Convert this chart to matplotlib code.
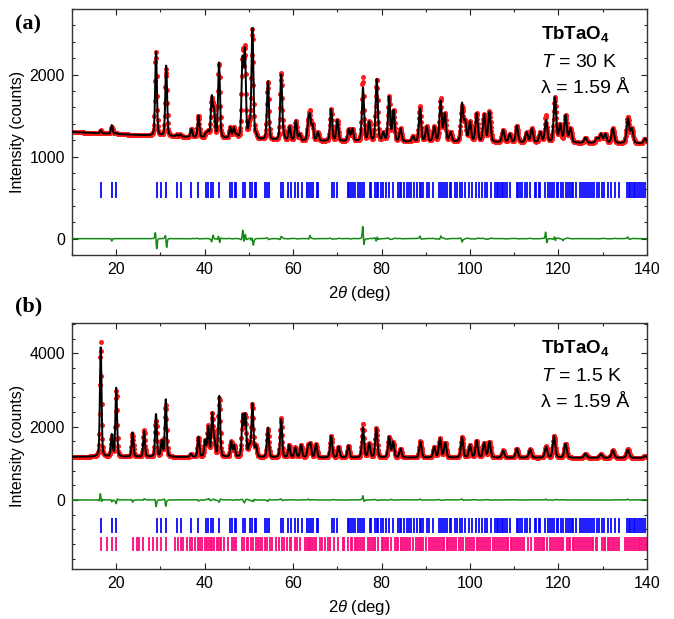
import numpy as np
import matplotlib
matplotlib.use("Agg")
import matplotlib.pyplot as plt
from matplotlib.ticker import MultipleLocator

plt.rcParams['font.family'] = ['Liberation Sans', 'DejaVu Sans']
plt.rcParams['mathtext.fontset'] = 'custom'
plt.rcParams['mathtext.rm'] = 'Liberation Sans'
plt.rcParams['mathtext.it'] = 'Liberation Sans:italic'
plt.rcParams['mathtext.bf'] = 'Liberation Sans:bold'

# ---------------- data: panel (a) T = 30 K ----------------
bg_a_x = [10, 30, 60, 100, 140]
bg_a_y = [1300, 1250, 1190, 1175, 1160]
peaks_a_pos = [16.5, 19.0, 20.0, 29.0, 29.6, 31.3, 33.7, 34.5, 37.0, 38.6, 40.3, 40.8,
               41.6, 42.1, 43.25, 45.8, 46.6, 47.2, 48.55, 49.1, 50.1, 50.8, 51.6, 54.3,
               57.3, 57.9, 59.2, 60.6, 61.5, 63.4, 63.8, 64.4, 65.6, 68.6, 70.0, 72.6,
               73.4, 75.8, 77.2, 78.9, 80.4, 81.7, 82.7, 84.3, 87.1, 88.7, 90.2, 91.9,
               93.35, 94.3, 95.6, 98.2, 98.9, 100.0, 101.5, 103.2, 104.4, 107.5, 109.0,
               110.6, 112.8, 114.0, 115.9, 117.2, 119.2, 120.4, 121.6, 122.7, 126.1,
               128.7, 129.6, 130.6, 132.3, 135.7, 136.6, 139.6]
peaks_a_hgt = [1320, 1385, 1290, 2280, 1300, 2115, 1270, 1270, 1340, 1500, 1300, 1320,
               1750, 1600, 2150, 1360, 1360, 1280, 2230, 2330, 1450, 2570, 1300, 1920,
               2005, 1300, 1370, 1440, 1280, 1450, 1530, 1400, 1300, 1580, 1450, 1340,
               1345, 1840, 1430, 1950, 1300, 1735, 1570, 1345, 1250, 1590, 1370, 1370,
               1685, 1530, 1300, 1660, 1450, 1430, 1530, 1520, 1550, 1325, 1280,
               1375, 1300, 1345, 1300, 1450, 1725, 1400, 1510, 1350, 1230,
               1230, 1280, 1280, 1345, 1470, 1350, 1220]
diff_a_pos = [19.0, 28.85, 29.15, 31.15, 31.4, 41.6, 41.9, 43.1, 43.4, 48.6, 48.9, 49.2,
              50.5, 51.0, 57.3, 63.8, 75.75, 76.0, 78.8, 79.0, 88.7, 93.4, 98.2, 117.1,
              117.35, 119.1, 119.3, 121.0, 135.7]
diff_a_amp = [-30, 60, -110, 30, -100, -40, 30, 40, -60, 90, -60, 60,
              -40, -60, 25, 40, 150, -70, -40, 30, 30, 30, -40, 80,
              -50, 30, -30, -20, 20]

# ---------------- data: panel (b) T = 1.5 K ----------------
bg_b_x = [10, 30, 60, 100, 140]
bg_b_y = [1175, 1170, 1150, 1150, 1145]
peaks_b_pos = [16.5, 19.0, 20.0, 23.7, 26.3, 29.0, 30.3, 31.2, 36.9, 38.6, 40.1, 40.8,
               41.7, 42.2, 43.3, 46.0, 46.7, 48.6, 49.2, 50.1, 50.8, 51.6, 54.3, 57.3,
               59.1, 60.5, 61.8, 63.4, 63.9, 65.2, 68.6, 70.3, 72.5, 75.8, 77.2, 78.8,
               81.7, 82.6, 84.3, 88.8, 91.9, 93.2, 94.4, 98.2, 100.0, 101.5, 103.2,
               104.4, 107.5, 110.6, 113.6, 117.2, 119.0, 121.6, 126.1, 129.6, 132.3,
               135.7, 139.6]
peaks_b_hgt = [4180, 1800, 3060, 1845, 1880, 2345, 1640, 2745, 1260, 1730, 1640, 2020,
               2380, 1700, 2845, 1600, 1500, 2345, 2365, 1550, 2640, 1500, 1975, 2200,
               1500, 1430, 1500, 1500, 1550, 1530, 1745, 1455, 1480, 1975, 1545, 1955,
               1730, 1590, 1400, 1590, 1450, 1680, 1565, 1710, 1500, 1620, 1565,
               1590, 1350, 1400, 1380, 1450, 1745, 1530, 1260, 1250, 1350,
               1370, 1200]
diff_b_pos = [16.4, 16.7, 19.0, 20.0, 23.7, 26.3, 29.0, 31.2, 38.6, 41.0, 43.3, 49.0,
              51.0, 54.3, 57.3, 63.5, 75.8, 76.0, 88.8, 98.2, 117.2, 135.7]
diff_b_amp = [200, -90, -50, -100, -60, 30, -180, -170, -30, 50, -60, -50,
              -70, -40, 25, 30, 120, -40, 20, 25, 20, 20]

# ---------------- Bragg reflection positions ----------------
nuc_ticks = [16.6, 19.05, 19.96, 29.2, 30.2, 31.2, 33.7, 34.6, 36.9, 38.5, 40.3, 40.8,
             41.4, 41.9, 43.3, 45.7, 46.2, 46.8, 47.2, 48.7, 49.1, 50.2, 50.8, 51.4,
             51.7, 53.6, 54.2, 54.5, 57.3, 57.7, 58.8, 59.5, 60.5, 61.1, 61.9, 63.2,
             63.5, 64.0, 64.5, 65.3, 65.6, 68.7, 69.3, 70.0, 72.3, 72.7, 73.0, 73.6,
             73.9, 74.7, 75.1, 75.6, 76.1, 77.3, 77.7, 78.5, 78.9, 79.2, 79.8, 80.4,
             81.1, 81.6, 82.6, 83.8, 84.1, 84.5, 85.1, 85.7, 86.2, 86.6, 87.4, 88.1,
             88.7, 89.0, 89.4, 90.2, 90.7, 91.7, 93.0, 93.4, 93.95, 94.3, 94.9, 95.5,
             95.8, 96.5, 97.0, 97.7, 98.2, 98.9, 99.8, 100.4, 101.3, 102.0, 102.6,
             103.4, 103.8, 104.7, 105.6, 106.0, 106.4, 106.8, 107.2, 107.5, 107.9,
             108.3, 109.0, 110.6, 110.9, 111.3, 111.7, 112.4, 112.8, 113.6, 114.6,
             114.9, 115.5, 115.8, 117.0, 117.7, 118.1, 118.5, 119.1, 119.6, 120.0,
             120.6, 121.1, 121.7, 122.1, 122.6, 123.0, 123.4, 123.9, 124.9, 125.3,
             125.7, 126.2, 126.6, 127.2, 127.5, 128.1, 128.7, 129.2, 129.8, 130.2,
             131.3, 131.9, 132.7, 133.6, 135.5, 135.9, 136.2, 136.6, 137.0, 137.4,
             137.7, 138.1, 138.6, 139.1, 139.6]
mag_ticks = [16.6, 18.0, 19.05, 19.96, 23.7, 24.6, 25.1, 26.1, 27.4, 28.3, 29.3, 30.2,
             31.2, 33.4, 34.0, 34.6, 35.1, 35.9, 36.6, 37.2, 37.8, 38.5, 38.9, 39.4,
             40.0, 40.6, 40.9, 41.4, 41.7, 42.2, 42.7, 43.1, 43.4, 43.8, 44.4, 45.3,
             46.1, 46.7, 47.2, 48.5, 49.0, 49.5, 49.9, 50.5, 51.0, 51.5, 52.0, 52.5,
             53.0, 53.6, 54.2, 54.8, 55.3, 56.1, 56.9, 57.4, 57.9, 58.6, 59.2, 59.6,
             60.5, 60.9, 61.6, 62.6, 63.1, 63.5, 63.9, 64.3, 64.8, 65.2, 66.1, 66.5,
             67.1, 67.9, 68.3, 69.3, 70.2, 71.2, 71.6, 72.5, 73.0, 73.4, 73.9, 74.3,
             74.7, 75.2, 75.6, 76.1, 77.0, 77.4, 77.8, 78.2, 78.6, 79.1, 80.0, 80.4,
             80.8, 81.2, 81.5, 82.2, 83.0, 83.4, 83.8, 84.3, 84.7, 85.1, 85.6, 86.0,
             86.4, 87.2, 87.7, 88.2, 88.6, 89.0, 89.4, 90.1, 90.8, 91.2, 91.7, 92.1,
             92.5, 92.9, 93.4, 93.8, 94.2, 94.7, 95.1, 95.5, 96.0, 96.4, 96.8, 97.6,
             98.0, 98.5, 99.2, 99.6, 100.0, 100.5, 100.9, 101.5, 101.9, 102.3, 102.8,
             103.2, 103.6, 104.1, 104.5, 105.3, 105.7, 106.1, 106.6, 107.0, 107.4,
             107.9, 108.3, 108.7, 109.2, 109.6, 110.0, 110.5, 110.9, 111.3, 111.8,
             112.2, 113.2, 113.7, 114.7, 115.1, 115.5, 116.0, 116.4, 116.8, 117.3,
             118.1, 118.5, 119.0, 119.4, 119.8, 120.3, 120.7, 121.1, 121.9, 122.3,
             122.7, 123.2, 123.6, 124.0, 124.5, 124.9, 125.3, 125.8, 126.2, 126.6,
             127.1, 127.5, 127.9, 128.4, 128.8, 129.8, 130.2, 130.6, 131.1, 131.5,
             131.9, 132.4, 132.8, 133.2, 133.6, 135.1, 135.5, 135.9, 136.4, 136.8,
             137.2, 137.7, 138.1, 138.5, 139.0, 139.4, 139.8]


def fwhm(x):
    return 0.42 + 0.0022 * (np.asarray(x) - 10.0)


def pv(x, c, w, eta=0.3):
    g = np.exp(-4 * np.log(2) * ((x - c) / w) ** 2)
    l = 1.0 / (1 + 4 * ((x - c) / w) ** 2)
    return eta * l + (1 - eta) * g


def calc_profile(x, bgx, bgy, pos, hgt):
    pos = np.asarray(pos, float)
    hgt = np.asarray(hgt, float)
    bg_at = np.interp(pos, bgx, bgy)
    target = np.maximum(hgt - bg_at, 1.0)
    A = np.array([[pv(p, c, fwhm(c)) for c in pos] for p in pos])
    amp = target.copy()
    for _ in range(300):
        amp = amp * target / (A @ amp)
    prof = np.interp(x, bgx, bgy).astype(float)
    for c, a in zip(pos, amp):
        prof += a * pv(x, c, fwhm(c))
    return prof, pos, amp


def diff_profile(x, dpos, damp, ppos, pamp):
    d = np.zeros_like(x)
    for c, a in zip(dpos, damp):
        w = 0.25
        d += a * np.exp(-4 * np.log(2) * ((x - c) / w) ** 2)
    # small misfit wiggle at every reflection
    for i, (c, a) in enumerate(zip(ppos, pamp)):
        w = fwhm(c)
        s = 1 if i % 2 == 0 else -1
        d += s * 0.05 * a * ((x - c) / w) * np.exp(-2.0 * ((x - c) / w) ** 2)
    return d


x = np.arange(10.0, 140.001, 0.04)
xo = np.arange(10.0, 140.001, 0.08)

fig = plt.figure(figsize=(6.74, 6.19), dpi=100)
ax_a = fig.add_axes([0.1068, 0.588, 0.853, 0.3975])
ax_b = fig.add_axes([0.1068, 0.081, 0.853, 0.397])

panels = [
    (ax_a, bg_a_x, bg_a_y, peaks_a_pos, peaks_a_hgt, diff_a_pos, diff_a_amp,
     (-200, 2800), 1000, 200, r'$T$ = 30 K', '(a)'),
    (ax_b, bg_b_x, bg_b_y, peaks_b_pos, peaks_b_hgt, diff_b_pos, diff_b_amp,
     (-1880, 4820), 2000, 400, r'$T$ = 1.5 K', '(b)'),
]

for (ax, bgx, bgy, pp, ph, dp, da, ylim, maj, mnr, ttxt, lab) in panels:
    calc, ppos, pamp = calc_profile(x, bgx, bgy, pp, ph)
    calc_o, _, _ = calc_profile(xo, bgx, bgy, pp, ph)
    dif = diff_profile(x, dp, da, ppos, pamp)
    dif_o = diff_profile(xo, dp, da, ppos, pamp)
    obs = calc_o + dif_o
    ax.plot(xo, obs, 'o', color='#ff1a1a', ms=3.6, mew=0, zorder=2)
    ax.plot(x, calc, '-', color='black', lw=1.4, zorder=3)
    ax.plot(x, dif, '-', color='#138a13', lw=1.1, zorder=3)
    if lab == '(a)':
        ax.vlines(nuc_ticks, 500, 690, color='#0000ff', lw=1.25, zorder=2)
    else:
        ax.vlines(nuc_ticks, -500, -900, color='#0000ff', lw=1.25, zorder=2)
        ax.vlines(mag_ticks, -1000, -1400, color='#ff0a7f', lw=1.4, alpha=0.95, zorder=2)

    ax.set_xlim(10, 140)
    ax.set_ylim(*ylim)
    ax.xaxis.set_major_locator(MultipleLocator(20))
    ax.xaxis.set_minor_locator(MultipleLocator(10))
    ax.yaxis.set_major_locator(MultipleLocator(maj))
    ax.yaxis.set_minor_locator(MultipleLocator(mnr))
    ax.tick_params(which='both', direction='in', top=True, right=True,
                   labelsize=11.5, colors='#222222', labelcolor='black', pad=5)
    ax.tick_params(which='major', length=4.5, width=0.8)
    ax.tick_params(which='minor', length=2.5, width=0.8)
    for s in ax.spines.values():
        s.set_linewidth(1.0)
        s.set_color('#333333')
    ax.set_xlabel(r'$2\theta$ (deg)', fontsize=12, labelpad=5)
    ax.set_ylabel('Intensity (counts)', fontsize=11.5, labelpad=3)
    ax.text(0.815, 0.88, r'TbTaO$_\mathbf{4}$', transform=ax.transAxes, fontsize=13.5,
            fontweight='bold', ha='left', va='baseline')
    ax.text(0.815, 0.765, ttxt, transform=ax.transAxes, fontsize=14,
            ha='left', va='baseline')
    ax.text(0.815, 0.66, 'λ = 1.59 Å', transform=ax.transAxes, fontsize=14,
            ha='left', va='baseline')

fig.text(15 / 674, 1 - 24 / 619, '(a)', fontsize=16, fontweight='bold',
         family='Liberation Serif', ha='left', va='center')
fig.text(15 / 674, 1 - 306 / 619, '(b)', fontsize=16, fontweight='bold',
         family='Liberation Serif', ha='left', va='center')

fig.savefig('out.png', dpi=100)
